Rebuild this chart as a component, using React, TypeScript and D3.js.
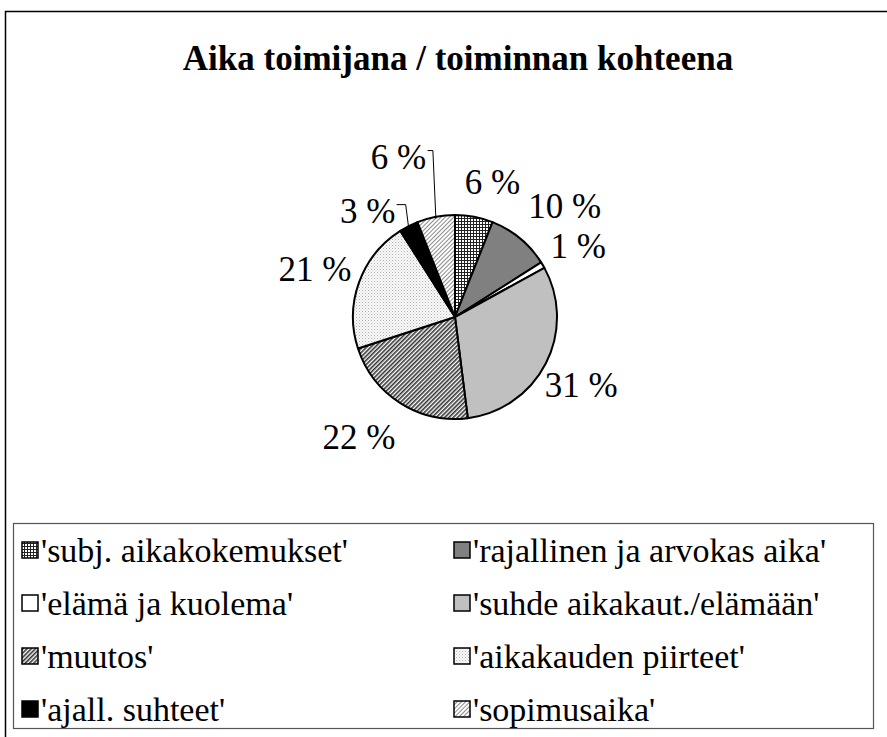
import React, { useEffect, useRef } from "react";
import * as d3 from "d3";

// chart data (percent of all items)
const categories = [
  "'subj. aikakokemukset'",
  "'rajallinen ja arvokas aika'",
  "'elämä ja kuolema'",
  "'suhde aikakaut./elämään'",
  "'muutos'",
  "'aikakauden piirteet'",
  "'ajall. suhteet'",
  "'sopimusaika'",
];
const shares = [6, 10, 1, 31, 22, 21, 3, 6];
const title = "Aika toimijana / toiminnan kohteena";

// fill for each slice (solid colours or pattern ids)
const fills = [
  "url(#p-grid)",
  "#808080",
  "#ffffff",
  "#c0c0c0",
  "url(#p-dense)",
  "url(#p-dots)",
  "#000000",
  "url(#p-light)",
];

const W = 887;
const H = 737;
const FONT = "Liberation Serif, Times New Roman, serif";

const App = () => {
  const svgRef = useRef<SVGSVGElement>(null);

  useEffect(() => {
    if (!svgRef.current) return;
    const svg = d3.select(svgRef.current);
    svg.selectAll("*").remove();

    // patterns
    const defs = svg.append("defs");
    const grid = defs
      .append("pattern")
      .attr("id", "p-grid")
      .attr("patternUnits", "userSpaceOnUse")
      .attr("width", 3)
      .attr("height", 3);
    grid.append("rect").attr("width", 3).attr("height", 3).attr("fill", "#fff");
    grid.append("rect").attr("width", 3).attr("height", 1).attr("fill", "#222");
    grid.append("rect").attr("width", 1).attr("height", 3).attr("fill", "#222");

    const hatch = (id, size, stroke, sw) => {
      const p = defs
        .append("pattern")
        .attr("id", id)
        .attr("patternUnits", "userSpaceOnUse")
        .attr("width", size)
        .attr("height", size)
        .attr("patternTransform", "rotate(45)");
      p.append("rect").attr("width", size).attr("height", size).attr("fill", "#fff");
      p.append("rect").attr("width", sw).attr("height", size).attr("fill", stroke);
    };
    hatch("p-dense", 3, "#333", 1.6);
    hatch("p-light", 3, "#8a8a8a", 1);

    const dots = defs
      .append("pattern")
      .attr("id", "p-dots")
      .attr("patternUnits", "userSpaceOnUse")
      .attr("width", 3)
      .attr("height", 3);
    dots.append("rect").attr("width", 3).attr("height", 3).attr("fill", "#fafafa");
    dots.append("rect").attr("x", 0).attr("y", 0).attr("width", 1).attr("height", 1).attr("fill", "#b0b0b0");
    dots.append("rect").attr("x", 1.5).attr("y", 1.5).attr("width", 1).attr("height", 1).attr("fill", "#c8c8c8");

    // outer chart frame (runs off the page on right and bottom)
    svg
      .append("rect")
      .attr("x", 5.5)
      .attr("y", 11.5)
      .attr("width", W + 20)
      .attr("height", H + 20)
      .attr("fill", "#fff")
      .attr("stroke", "#000")
      .attr("stroke-width", 1.5);

    svg
      .append("text")
      .attr("x", 458)
      .attr("y", 70)
      .attr("text-anchor", "middle")
      .style("font-family", FONT)
      .attr("font-weight", "bold")
      .attr("font-size", 35)
      .text(title);

    // pie
    const cx = 455;
    const cy = 317;
    const r = 102;
    const pie = d3.pie<number>().sort(null).value((d) => d);
    const arcs = pie(shares);
    const arc = d3.arc<d3.PieArcDatum<number>>().innerRadius(0).outerRadius(r);

    const g = svg.append("g").attr("transform", `translate(${cx},${cy})`);
    g.selectAll("path")
      .data(arcs)
      .join("path")
      .attr("d", arc)
      .attr("fill", (d, i) => fills[i])
      .attr("stroke", "#000")
      .attr("stroke-width", 2)
      .attr("stroke-linejoin", "round");

    // labels outside the pie; the two small top-left ones get leader lines
    const labelFont = 35;
    const nudges = [
      [12, -2],
      [14, 5],
      [-4, 4],
      [-12, -3],
      [-17, -5],
      [6, 4],
      [-23, 20],
      [-31, -27],
    ];
    arcs.forEach((d, i) => {
      const a = (d.startAngle + d.endAngle) / 2;
      const txt = `${shares[i]} %`;
      const w = txt.length > 3 ? 70 : 54;
      const h = 26;
      const ext = Math.abs(Math.sin(a)) * (w / 2) + Math.abs(Math.cos(a)) * (h / 2);
      const dist = r + 16 + ext;
      const lx = Math.sin(a) * dist + nudges[i][0];
      const ly = -Math.cos(a) * dist + nudges[i][1];
      g.append("text")
        .attr("x", lx)
        .attr("y", ly)
        .attr("dy", "0.35em")
        .attr("text-anchor", "middle")
        .style("font-family", FONT)
        .attr("font-size", labelFont)
        .text(txt);
      if (i >= 6) {
        // leader from the slice edge up to the label
        const ex = Math.sin(a) * r;
        const ey = -Math.cos(a) * r;
        const tx = lx + w / 2 + 2;
        const yy = ly - 6;
        g.append("path")
          .attr("d", `M${ex},${ey + 2}L${ex - 3},${yy}L${tx},${yy}`)
          .attr("fill", "none")
          .attr("stroke", "#000")
          .attr("stroke-width", 1);
      }
    });

    // legend
    const lg = svg.append("g");
    lg.append("rect")
      .attr("x", 13.5)
      .attr("y", 523.5)
      .attr("width", 860)
      .attr("height", 205)
      .attr("fill", "#fff")
      .attr("stroke", "#555")
      .attr("stroke-width", 1.2);

    const colX = [22, 454];
    const rowY = d3.scaleLinear().domain([0, 3]).range([550, 709]);
    categories.forEach((name, i) => {
      const x = colX[i % 2];
      const y = rowY(Math.floor(i / 2));
      lg.append("rect")
        .attr("x", x)
        .attr("y", y - 8)
        .attr("width", 16)
        .attr("height", 16)
        .attr("fill", fills[i])
        .attr("stroke", "#000")
        .attr("stroke-width", 1.5);
      lg.append("text")
        .attr("x", x + 19)
        .attr("y", y)
        .attr("dy", "0.35em")
        .style("font-family", FONT)
        .attr("font-size", 34)
        .text(name);
    });
  }, []);

  return (
    <svg
      ref={svgRef}
      width={W}
      height={H}
      style={{ position: "absolute", left: 0, top: 0, display: "block", background: "#fff" }}
    />
  );
};

export default App;
